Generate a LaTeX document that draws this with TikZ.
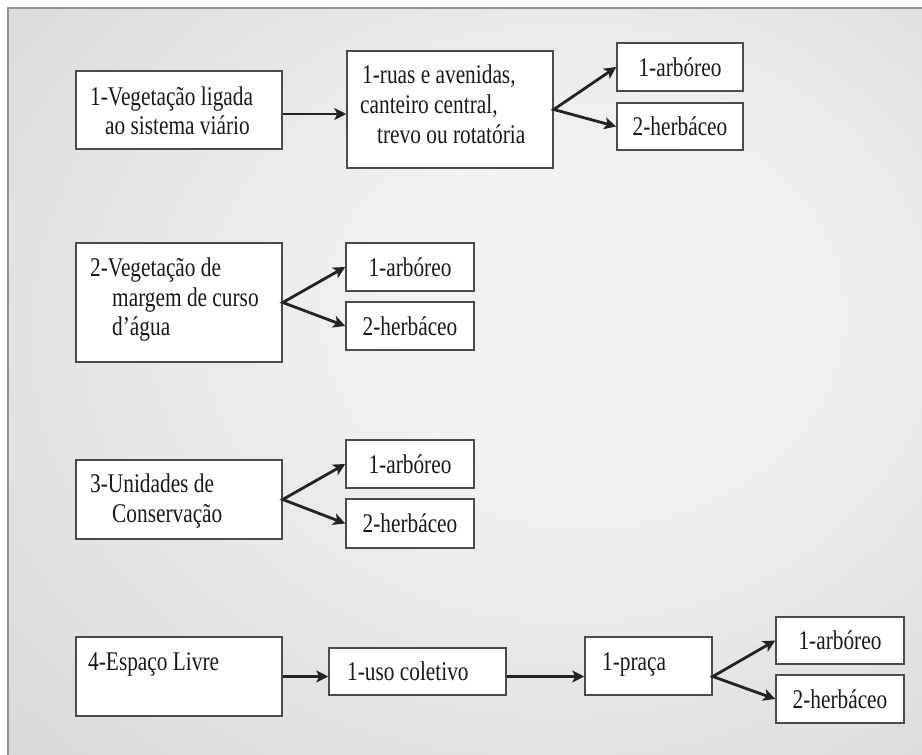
\documentclass[tikz,border=0pt]{standalone}
\usepackage{fontspec}
\setmainfont{Liberation Serif}[FakeStretch=0.79]
\usetikzlibrary{arrows.meta}
\definecolor{bgin}{RGB}{241,242,243}
\definecolor{bgout}{RGB}{192,194,197}
\definecolor{frameline}{RGB}{145,147,150}
\definecolor{boxline}{RGB}{75,75,75}
\definecolor{arrowc}{RGB}{35,35,35}
\definecolor{txt}{RGB}{25,25,25}
\pgfdeclareradialshading{bgshade}{\pgfpoint{8bp}{6bp}}{color(0bp)=(bgin); color(10bp)=(bgin); color(38bp)=(bgout!50!bgin); color(62bp)=(bgout)}
\begin{document}
\begin{tikzpicture}[x=1pt,y=-1pt,
  box/.style={draw=boxline, line width=1.5pt, fill=white, inner sep=0pt, text=txt, font=\fontsize{27}{30}\selectfont},
  lbl/.style={anchor=base west, inner sep=0pt, text=txt, font=\fontsize{27}{30}\selectfont},
  arr/.style={draw=arrowc, line width=2.8pt, -{Stealth[length=12pt,width=12pt,inset=3pt]}},
  fork/.style={draw=arrowc, line width=2.8pt, {Stealth[length=12pt,width=12pt,inset=3pt]}-{Stealth[length=12pt,width=12pt,inset=3pt]}},
  ]
\useasboundingbox (0,0) rectangle (922,755);
\fill[white] (0,0) rectangle (922,755);
\shade[shading=bgshade] (8,8) rectangle (930,760);
\draw[frameline, line width=1.5pt] (8,760) -- (8,8) -- (930,8);

% row 1
\node[box, minimum width=206pt, minimum height=78pt] (A) at (179,110) {};
\node[box, minimum width=206pt, minimum height=117pt] (B) at (450,109.5) {};
\node[box, minimum width=126pt, minimum height=48pt] (C1a) at (680,67) {1-arbóreo};
\node[box, minimum width=126pt, minimum height=47pt] (C1b) at (680,126.5) {2-herbáceo};
\node[lbl] (tA1) at (90,105) {1-Vegetação ligada};
\node[lbl] (tA2) at (105,134) {ao sistema viário};
\node[lbl] (tB1) at (362,83) {1-ruas e avenidas,};
\node[lbl] (tB2) at (360,113) {canteiro central,};
\node[lbl] (tB3) at (377,143) {trevo ou rotatória};
\draw[arr] ([yshift=-4pt]A.east) -- ([yshift=-4pt]A.east -| B.west);
\draw[fork] (C1a.west) -- (B.east) -- (C1b.west);

% row 2
\node[box, minimum width=206pt, minimum height=119pt] (E) at (179,302.5) {};
\node[box, minimum width=128pt, minimum height=48pt] (C2a) at (410,267) {1-arbóreo};
\node[box, minimum width=128pt, minimum height=48pt] (C2b) at (410,326) {2-herbáceo};
\node[lbl] (tE1) at (90,276) {2-Vegetação de};
\node[lbl] (tE2) at (112,306) {margem de curso};
\node[lbl] (tE3) at (112,335) {d’água};
\draw[fork] (C2a.west) -- (E.east) -- (C2b.west);

% row 3
\node[box, minimum width=206pt, minimum height=79pt] (F) at (179,499.5) {};
\node[box, minimum width=128pt, minimum height=48pt] (C3a) at (410,464) {1-arbóreo};
\node[box, minimum width=128pt, minimum height=49pt] (C3b) at (410,523.5) {2-herbáceo};
\node[lbl] (tF1) at (90,492) {3-Unidades de};
\node[lbl] (tF2) at (112,522) {Conservação};
\draw[fork] (C3a.west) -- (F.east) -- (C3b.west);

% row 4
\node[box, minimum width=206pt, minimum height=79pt] (D) at (179,676.5) {};
\node[box, minimum width=177pt, minimum height=47pt] (U) at (417.5,671.5) {};
\node[box, minimum width=127pt, minimum height=58pt] (P) at (648.5,666) {};
\node[box, minimum width=128pt, minimum height=47pt] (C4a) at (840,640.5) {1-arbóreo};
\node[box, minimum width=128pt, minimum height=48pt] (C4b) at (840,699) {2-herbáceo};
\node[lbl] (tD) at (88,670) {4-Espaço Livre};
\node[lbl] (tU) at (347,680) {1-uso coletivo};
\node[lbl] (tP) at (602,670) {1-praça};
\draw[arr] (D.east) -- (D.east -| U.west);
\draw[arr] (D.east -| U.east) -- (D.east -| P.west);
\draw[fork] (C4a.west) -- (D.east -| P.east) -- (C4b.west);
\end{tikzpicture}
\end{document}
